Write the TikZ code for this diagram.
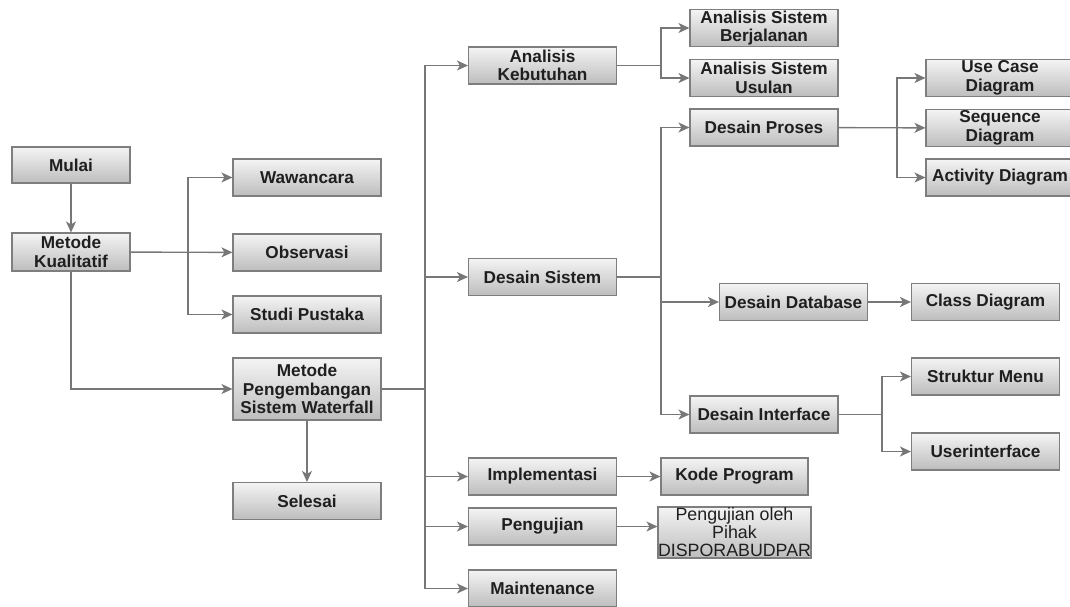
\documentclass[tikz,border=0pt]{standalone}
\usepackage{fontspec}
\setmainfont{Liberation Sans}
\usetikzlibrary{arrows.meta}
\definecolor{linegray}{HTML}{777777}
\definecolor{boxtop}{HTML}{F4F4F4}
\definecolor{boxbottom}{HTML}{BDBDBD}
\definecolor{boxline}{HTML}{7E7E7E}
\begin{document}
\begin{tikzpicture}[x=1pt, y=-1pt, >={Stealth[length=11pt,width=10pt,inset=3pt]},
        box/.style={draw=boxline, line width=1.1pt, top color=boxtop, bottom color=boxbottom,
            minimum width=148pt, minimum height=37pt, inner sep=0pt, align=center,
            font=\fontsize{17.2}{18.4}\selectfont\bfseries, text=black!88},
        link/.style={draw=linegray, line width=1.4pt}]
        \useasboundingbox (0,0) rectangle (1070,606);

        %%%%%%%%%%%%%%%%%%%%%%%%%%%%%%%%%%%%%%%%%%%%
        % Start and method nodes
        %%%%%%%%%%%%%%%%%%%%%%%%%%%%%%%%%%%%%%%%%%%%
        \node [box, minimum width=118pt, minimum height=36pt] (mulai) at (71,165) {Mulai};
        \node [box, minimum width=118pt, minimum height=38pt] (kualitatif) at (71,252) {Metode\\Kualitatif};

        % Data collection
        \foreach \n/\l/\y in {wawancara/Wawancara/177.5, observasi/Observasi/252.5, pustaka/Studi Pustaka/314.5}
            \node [box] (\n) at (307,\y) {\l};

        \node [box, minimum height=62pt] (waterfall) at (307,389) {Metode\\Pengembangan\\Sistem Waterfall};
        \node [box] (selesai) at (307,501) {Selesai};

        %%%%%%%%%%%%%%%%%%%%%%%%%%%%%%%%%%%%%%%%%%%%
        % Waterfall stages
        %%%%%%%%%%%%%%%%%%%%%%%%%%%%%%%%%%%%%%%%%%%%
        \node [box] (kebutuhan) at (542.5,65.5) {Analisis\\Kebutuhan};
        \node [box] (dsistem) at (542.5,277) {Desain Sistem};
        \node [box] (implementasi) at (542.5,476.5) {Implementasi};
        \node [box] (pengujian) at (542.5,526.5) {Pengujian};
        \node [box] (maintenance) at (542.5,588.5) {Maintenance};

        %%%%%%%%%%%%%%%%%%%%%%%%%%%%%%%%%%%%%%%%%%%%
        % Sub stages
        %%%%%%%%%%%%%%%%%%%%%%%%%%%%%%%%%%%%%%%%%%%%
        \node [box] (berjalan) at (764,28) {Analisis Sistem\\Berjalanan};
        \node [box] (usulan) at (764,78) {Analisis Sistem\\Usulan};
        \node [box] (dproses) at (764,127.5) {Desain Proses};
        \node [box] (ddatabase) at (793.5,302) {Desain Database};
        \node [box] (dinterface) at (764,414.5) {Desain Interface};
        \node [box, minimum width=147pt] (kode) at (734.5,476.5) {Kode Program};
        \node [box, minimum width=147pt, minimum height=51pt, font=\fontsize{17.8}{18}\selectfont] (pihak) at (734.5,532.5) {Pengujian oleh\\Pihak\\DISPORABUDPAR};

        % Results
        \foreach \n/\l/\y in {usecase/Use Case\\Diagram/78, sequence/Sequence\\Diagram/128, activity/Activity Diagram/177.5}
            \node [box] (\n) at (1000,\y) {\l};
        \foreach \n/\l/\y in {class/Class Diagram/302, struktur/Struktur Menu/376.5, userint/Userinterface/451.5}
            \node [box] (\n) at (985.5,\y) {\l};

        %%%%%%%%%%%%%%%%%%%%%%%%%%%%%%%%%%%%%%%%%%%%
        % Connecting
        %%%%%%%%%%%%%%%%%%%%%%%%%%%%%%%%%%%%%%%%%%%%
        \coordinate (kual-split) at (188,252);
        \coordinate (trunk) at (425,389);
        \coordinate (kb-split) at (661,65.5);
        \coordinate (ds-split) at (661,277);
        \coordinate (dp-split) at (897,127.5);
        \coordinate (di-split) at (882,414.5);

        % Left part
        \draw [link, ->] (mulai) -- (kualitatif);
        \draw [link, ->] (kualitatif) -- (observasi);
        \foreach \n in {wawancara, pustaka}
            \draw [link, ->] (kual-split) |- (\n);
        \draw [link, ->] (kualitatif) |- (waterfall);
        \draw [link, ->] (waterfall) -- (selesai);

        % Waterfall to stages
        \draw [link] (waterfall) -- (trunk);
        \foreach \n in {kebutuhan, dsistem, implementasi, pengujian, maintenance}
            \draw [link, ->] (trunk) |- (\n);

        % Stages to sub stages
        \draw [link] (kebutuhan) -- (kb-split);
        \foreach \n in {berjalan, usulan}
            \draw [link, ->] (kb-split) |- (\n);
        \draw [link] (dsistem) -- (ds-split);
        \foreach \n in {dproses, ddatabase, dinterface}
            \draw [link, ->] (ds-split) |- (\n);
        \draw [link, ->] (implementasi) -- (kode);
        \draw [link, ->] (pengujian.east) -- (pengujian.east -| pihak.west);

        % Sub stages to results
        \draw [link, ->] (dproses) -- (sequence);
        \foreach \n in {usecase, activity}
            \draw [link, ->] (dp-split) |- (\n);
        \draw [link, ->] (ddatabase) -- (class);
        \draw [link] (dinterface) -- (di-split);
        \foreach \n in {struktur, userint}
            \draw [link, ->] (di-split) |- (\n);
    \end{tikzpicture}
\end{document}
